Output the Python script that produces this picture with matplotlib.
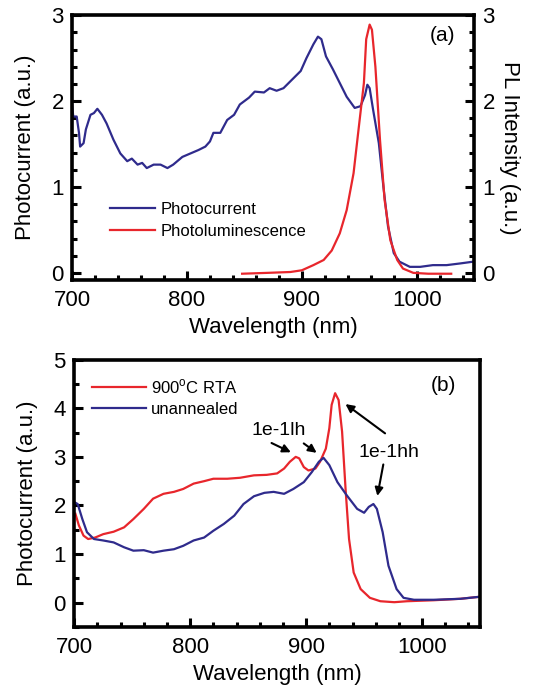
import matplotlib.pyplot as plt
from matplotlib.ticker import MultipleLocator

plt.rcParams['font.family'] = ['Liberation Sans', 'DejaVu Sans']

# panel (a) photocurrent
a_pc_x = [700, 701, 704, 706, 707, 710, 712, 716, 719, 722, 726, 730, 736, 742, 748, 752,
          757, 761, 765, 771, 777, 783, 788, 796, 803, 810, 816, 820, 823, 829, 835, 841,
          846, 854, 859, 867, 872, 878, 884, 890, 899, 904, 910, 914, 917, 921, 927, 933,
          939, 946, 951, 955, 957, 959, 962, 967, 971, 975, 980, 985, 994, 1003, 1014,
          1026, 1038, 1049]
a_pc_y = [1.96, 1.82, 1.82, 1.63, 1.47, 1.51, 1.67, 1.84, 1.86, 1.91, 1.84, 1.74, 1.55,
          1.39, 1.30, 1.33, 1.26, 1.28, 1.22, 1.26, 1.26, 1.22, 1.26, 1.35, 1.39, 1.43,
          1.47, 1.53, 1.63, 1.63, 1.78, 1.84, 1.96, 2.04, 2.11, 2.10, 2.15, 2.12, 2.15,
          2.23, 2.35, 2.50, 2.66, 2.75, 2.72, 2.52, 2.37, 2.21, 2.05, 1.92, 1.94, 2.07,
          2.19, 2.15, 1.90, 1.51, 1.00, 0.54, 0.23, 0.13, 0.07, 0.07, 0.09, 0.09, 0.11, 0.13]

# panel (a) photoluminescence
a_pl_x = [848, 870, 890, 900, 910, 919, 926, 933, 939, 945, 949, 954, 956, 959, 961, 964,
          968, 972, 977, 983, 988, 997, 1010, 1030]
a_pl_y = [-0.01, 0.0, 0.01, 0.03, 0.09, 0.15, 0.26, 0.46, 0.73, 1.16, 1.63, 2.21, 2.72,
          2.89, 2.83, 2.40, 1.55, 0.85, 0.38, 0.15, 0.05, 0.0, -0.01, -0.01]

# panel (b) 900C RTA
b_rta_x = [701, 704, 708, 712, 718, 725, 734, 743, 751, 760, 768, 777, 786, 794, 803, 812,
           820, 832, 843, 855, 866, 875, 881, 886, 891, 894, 898, 902, 908, 912, 917, 920,
           922, 925, 928, 931, 934, 937, 941, 947, 955, 964, 976, 987, 1010, 1033, 1049]
b_rta_y = [1.83, 1.59, 1.38, 1.31, 1.34, 1.41, 1.46, 1.55, 1.72, 1.93, 2.14, 2.24, 2.28,
           2.34, 2.45, 2.50, 2.55, 2.55, 2.57, 2.62, 2.63, 2.66, 2.76, 2.90, 3.00, 2.97,
           2.79, 2.72, 2.76, 2.90, 3.17, 3.59, 4.07, 4.31, 4.17, 3.52, 2.34, 1.31, 0.62,
           0.28, 0.10, 0.03, 0.01, 0.03, 0.05, 0.08, 0.12]

# panel (b) unannealed
b_un_x = [700, 703, 707, 711, 717, 725, 734, 743, 751, 760, 768, 777, 786, 794, 803, 812,
          820, 829, 838, 846, 855, 864, 872, 881, 889, 898, 905, 911, 915, 920, 927, 935,
          944, 950, 954, 958, 961, 966, 971, 978, 984, 993, 1010, 1033, 1049]
b_un_y = [2.07, 2.03, 1.72, 1.45, 1.31, 1.28, 1.24, 1.14, 1.07, 1.08, 1.03, 1.07, 1.10,
          1.17, 1.28, 1.34, 1.48, 1.62, 1.79, 2.03, 2.19, 2.26, 2.28, 2.24, 2.34, 2.48,
          2.69, 2.90, 2.98, 2.83, 2.48, 2.21, 1.93, 1.85, 1.97, 2.03, 1.93, 1.45, 0.76,
          0.28, 0.10, 0.06, 0.06, 0.08, 0.12]

BLUE = '#2f2b8c'
RED = '#e8262c'

fig = plt.figure(figsize=(5.34, 6.89), dpi=100)
ax1 = fig.add_axes([0.135, 0.594, 0.753, 0.384])
ax2 = fig.add_axes([0.139, 0.090, 0.760, 0.388])


def ticks(ax):
    ax.tick_params(which='both', direction='in', width=2.2, labelsize=16, pad=6)
    ax.tick_params(axis='x', pad=7.5)
    ax.tick_params(which='major', length=6.5)
    ax.tick_params(which='minor', length=3.5)


def style(ax, ymin, ymax, ymaj, ymin_step):
    ax.set_xlim(700, 1050)
    ax.set_ylim(ymin, ymax)
    ax.xaxis.set_major_locator(MultipleLocator(100))
    ax.xaxis.set_minor_locator(MultipleLocator(20))
    ax.yaxis.set_major_locator(MultipleLocator(ymaj))
    ax.yaxis.set_minor_locator(MultipleLocator(ymin_step))
    ticks(ax)
    for s in ax.spines.values():
        s.set_linewidth(2.6)
    ax.set_xlabel('Wavelength (nm)', fontsize=16, labelpad=4)
    ax.set_ylabel('Photocurrent (a.u.)', fontsize=16, labelpad=11)


# (a)
style(ax1, -0.08, 3.0, 1, 0.2)
l1, = ax1.plot(a_pc_x, a_pc_y, color=BLUE, lw=1.6, label='Photocurrent')
ax1r = ax1.twinx()
ax1r.set_ylim(-0.08, 3.0)
ax1r.yaxis.set_major_locator(MultipleLocator(1))
ax1r.yaxis.set_minor_locator(MultipleLocator(0.2))
ticks(ax1r)
l2, = ax1r.plot(a_pl_x, a_pl_y, color=RED, lw=1.6, label='Photoluminescence')
ax1r.set_ylabel('PL Intensity (a.u.)', fontsize=16, rotation=270, labelpad=18)
ax1.legend(handles=[l1, l2], loc='center left', bbox_to_anchor=(0.095, 0.225),
           frameon=False, fontsize=12, handlelength=2.7, borderpad=0,
           borderaxespad=0, labelspacing=0.4, handletextpad=0.3)
ax1.text(0.92, 0.925, '(a)', transform=ax1.transAxes, fontsize=15,
         ha='center', va='center')

# (b)
style(ax2, -0.5, 5.0, 1, 0.5)
m1, = ax2.plot(b_rta_x, b_rta_y, color=RED, lw=1.6, label='900$^{\\mathregular{o}}$C RTA')
m2, = ax2.plot(b_un_x, b_un_y, color=BLUE, lw=1.6, label='unannealed')
ax2.legend(handles=[m1, m2], loc='center left', bbox_to_anchor=(0.045, 0.86),
           frameon=False, fontsize=12, handlelength=3.2, borderpad=0,
           borderaxespad=0, labelspacing=0.35, handletextpad=0.3)
ax2.text(0.91, 0.905, '(b)', transform=ax2.transAxes, fontsize=15,
         ha='center', va='center')

arw = dict(arrowstyle='-|>', color='black', lw=1.5, mutation_scale=12)
ax2.text(876, 3.55, '1e-1lh', fontsize=14, ha='center', va='center')
ax2.annotate('', xy=(889, 3.07), xytext=(868, 3.31), arrowprops=arw)
ax2.annotate('', xy=(911, 3.05), xytext=(896, 3.31), arrowprops=arw)
ax2.text(971, 3.10, '1e-1hh', fontsize=14, ha='center', va='center')
ax2.annotate('', xy=(932, 4.12), xytext=(970, 3.45), arrowprops=arw)
ax2.annotate('', xy=(961, 2.14), xytext=(967, 2.90), arrowprops=arw)

fig.savefig('out.png', dpi=100)
